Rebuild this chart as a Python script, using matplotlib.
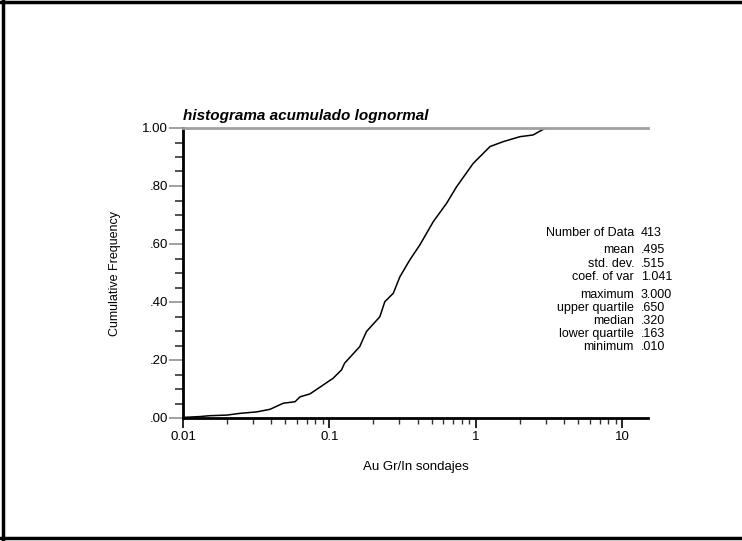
import matplotlib
matplotlib.use("Agg")
import matplotlib.pyplot as plt
from matplotlib.lines import Line2D
from matplotlib.ticker import FixedLocator, LogLocator, NullFormatter

plt.rcParams['font.family'] = ['Liberation Sans', 'DejaVu Sans']

# cumulative curve
au_values = [0.010, 0.0131, 0.0153, 0.0199, 0.0245, 0.0318, 0.0393, 0.0484,
             0.0582, 0.063, 0.0736, 0.0908, 0.106, 0.121, 0.127, 0.161,
             0.179, 0.221, 0.239, 0.273, 0.303, 0.354, 0.415, 0.512,
             0.631, 0.738, 0.960, 1.25, 1.54, 2.00, 2.46, 3.00]
cum_freq = [0.002, 0.005, 0.008, 0.010, 0.016, 0.021, 0.030, 0.051,
            0.056, 0.073, 0.083, 0.114, 0.137, 0.166, 0.189, 0.246,
            0.298, 0.349, 0.401, 0.430, 0.487, 0.545, 0.597, 0.677,
            0.740, 0.797, 0.878, 0.936, 0.953, 0.970, 0.976, 1.000]

x_ticks = [0.01, 0.1, 1, 10]
x_ticklabels = ['0.01', '0.1', '1', '10']
y_ticks = [0.0, 0.2, 0.4, 0.6, 0.8, 1.0]
y_ticklabels = ['.00', '.20', '.40', '.60', '.80', '1.00']

stat_names = ['Number of Data', 'mean', 'std. dev.', 'coef. of var',
              'maximum', 'upper quartile', 'median', 'lower quartile', 'minimum']
stat_values = ['413', '.495', '.515', '1.041',
               '3.000', '.650', '.320', '.163', '.010']
stat_rows_px = [233, 250, 264, 277, 295, 308, 321, 334, 347]

W, H = 742, 541
fig = plt.figure(figsize=(W / 100, H / 100), dpi=100)
ax = fig.add_axes([183 / W, 1 - 418 / H, (648 - 183) / W, (418 - 128) / H])

ax.plot(au_values, cum_freq, color='black', lw=1.1)

ax.set_xscale('log')
ax.set_xlim(0.01, 15)
ax.set_ylim(0, 1)

ax.set_xticks(x_ticks)
ax.set_xticklabels(x_ticklabels)
ax.xaxis.set_minor_locator(LogLocator(base=10, subs=range(2, 10)))
ax.xaxis.set_minor_formatter(NullFormatter())
ax.tick_params(axis='x', which='major', length=7, width=1.2, color='black',
               labelsize=9.5, pad=2)
ax.tick_params(axis='x', which='minor', length=4, width=1, color='#333333')

ax.set_yticks(y_ticks)
ax.set_yticklabels(y_ticklabels)
ax.yaxis.set_minor_locator(FixedLocator([i * 0.05 for i in range(21)]))
ax.tick_params(axis='y', which='major', length=10, width=1.3, color='#999999',
               labelsize=9.5, pad=1)
ax.tick_params(axis='y', which='minor', length=6, width=1.1, color='#222222')

for side in ('left', 'bottom'):
    ax.spines[side].set_linewidth(2)
    ax.spines[side].set_color('black')
ax.spines['top'].set_color('#a0a0a0')
ax.spines['top'].set_linewidth(2)
ax.spines['right'].set_visible(False)

ax.set_xlabel('Au Gr/In sondajes', fontsize=9.5, labelpad=13)
ax.set_ylabel('Cumulative Frequency', fontsize=9, labelpad=15)
ax.set_title('histograma acumulado lognormal', loc='left', fontsize=11,
             fontweight='bold', fontstyle='italic', pad=6)

for name, val, ypx in zip(stat_names, stat_values, stat_rows_px):
    fig.text(634 / W, 1 - ypx / H, name, ha='right', va='center', fontsize=9)
    fig.text(641 / W, 1 - ypx / H, val, ha='left', va='center', fontsize=9)

# page border (left, top, bottom)
for xs, ys in (([3 / W, 3 / W], [0, 1]),
               ([0, 1], [1 - 1.5 / H, 1 - 1.5 / H]),
               ([0, 1], [3 / H, 3 / H])):
    fig.add_artist(Line2D(xs, ys, color='black', lw=2.5, transform=fig.transFigure))

fig.savefig('out.png', dpi=100)
plt.close(fig)
